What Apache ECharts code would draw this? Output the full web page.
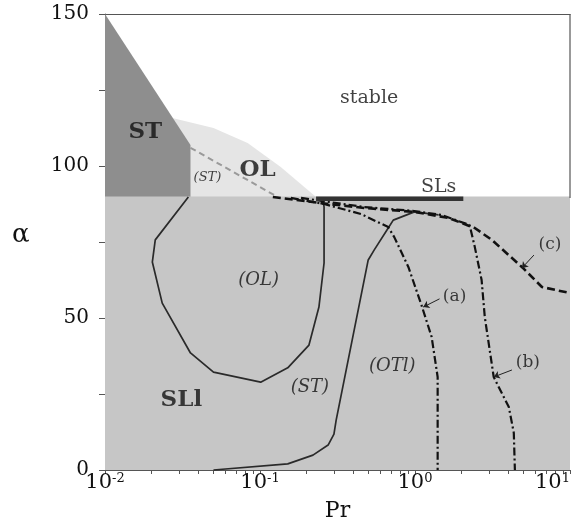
<!DOCTYPE html>
<html>
<head>
<meta charset="utf-8">
<script src="https://cdn.jsdelivr.net/npm/echarts@6/dist/echarts.min.js"></script>
<style>
html,body{margin:0;padding:0;background:#fff;}
#c{width:584px;height:529px;}
</style>
</head>
<body>
<div id="c"></div>
<script>
// ---- axis settings ----
const prMin = 0.01, prMax = 10;
const alphaMin = 0, alphaMax = 150;
const xMinorTicks = [0.01,0.02,0.03,0.04,0.05,0.06,0.07,0.08,0.09,0.1,0.2,0.3,0.4,0.5,0.6,0.7,0.8,0.9,1,2,3,4,5,6,7,8,9,10];

// ---- region boundaries ----
const stRegionPr    = [0.01, 0.0356, 0.0356];
const stRegionAlpha = [150, 106.9, 0];
const olRegionPr    = [0.01, 0.0272, 0.0501, 0.0832, 0.136, 0.230];
const olRegionAlpha = [116, 115.8, 112.5, 107.6, 99.7, 89.8];
const sllRegionPr    = [0.01, 10];
const sllRegionAlpha = [90, 90];
const slsBarPr    = [0.23, 2.05];
const slsBarAlpha = [89.2, 89.2];

// ---- curves ----
const stGrayPr    = [0.0356, 0.130];
const stGrayAlpha = [106.0, 89.8];
const olLoopPr    = [0.0345, 0.0211, 0.0202, 0.0234, 0.0356, 0.0501, 0.101, 0.151, 0.207, 0.240, 0.259, 0.259, 0.255];
const olLoopAlpha = [89.8, 75.7, 68.4, 54.9, 38.5, 32.2, 28.9, 33.6, 41.1, 53.6, 68.1, 86.5, 89.1];
const stSolidPr    = [0.0501, 0.151, 0.2196, 0.275, 0.300, 0.310, 0.499, 0.546, 0.672, 0.724, 0.991, 1.42];
const stSolidAlpha = [0, 2.0, 4.9, 8.2, 11.8, 16.4, 69.1, 72.4, 79.6, 82.2, 84.9, 83.9];
const curveAPr    = [0.158, 0.259, 0.449, 0.672, 0.735, 0.906, 1.10, 1.28, 1.40, 1.40];
const curveAAlpha = [89.5, 87.5, 84.2, 79.9, 76.6, 66.8, 54.3, 43.8, 30.6, 0];
const curveBPr    = [0.184, 0.470, 0.991, 1.48, 2.25, 2.43, 2.69, 2.82, 3.22, 4.03, 4.34, 4.41];
const curveBAlpha = [89.5, 86.5, 85.2, 83.9, 80.6, 73.4, 62.5, 50.3, 30.6, 20.7, 12.2, 0];
const curveCPr    = [0.121, 0.247, 0.470, 0.991, 1.65, 2.43, 3.13, 4.89, 6.59, 10];
const curveCAlpha = [89.8, 87.8, 86.2, 84.9, 82.9, 79.6, 75.7, 66.8, 60.2, 58.2];
const framePr    = [10, 10];
const frameAlpha = [89.5, 150];

// ---- text annotations ----
const boldNames = ['ST', 'OL', 'SLl'];
const boldPr    = [0.0182, 0.0966, 0.0311];
const boldAlpha = [111.2, 98.7, 23.0];
const plainNames = ['stable', 'SLs'];
const plainPr    = [0.506, 1.42];
const plainAlpha = [122.4, 93.1];
const italicNames = ['(OL)', '(ST)', '(OTl)'];
const italicPr    = [0.0981, 0.210, 0.714];
const italicAlpha = [62.5, 27.3, 34.2];
const smallItalicNames = ['(ST)'];
const smallItalicPr    = [0.0458];
const smallItalicAlpha = [96.1];
const tagNames = ['(a)', '(b)', '(c)'];
const tagPr    = [1.80, 5.35, 7.43];
const tagAlpha = [57.2, 35.2, 74.3];
const arrowFromPr    = [1.44, 4.22, 5.85];
const arrowFromAlpha = [56.3, 32.9, 70.7];
const arrowToPr      = [1.13, 3.22, 4.89];
const arrowToAlpha   = [53.6, 30.6, 66.4];

const xLabel = 'Pr';
const yLabel = 'α';

// ---- helpers ----
const zip = (xs, ys) => xs.map((x, i) => [x, ys[i]]);
const FONT = 'DejaVu Serif';

function areaSeries(xs, ys, color, z) {
  return { type: 'line', data: zip(xs, ys), showSymbol: false, symbol: 'none', z: z,
    lineStyle: { width: 0 }, areaStyle: { color: color, opacity: 1 }, silent: true, animation: false };
}
function curveSeries(xs, ys, style, z) {
  return { type: 'line', data: zip(xs, ys), showSymbol: false, symbol: 'none', z: z || 5,
    lineStyle: style, silent: true, animation: false, clip: false };
}
function textSeries(names, xs, ys, labelStyle) {
  return { type: 'scatter', symbolSize: 1, z: 10, silent: true, animation: false,
    itemStyle: { color: 'rgba(0,0,0,0)' },
    data: names.map((n, i) => ({ value: [xs[i], ys[i]], name: n })),
    label: Object.assign({ show: true, position: 'inside', formatter: p => p.name, color: '#111', fontFamily: FONT }, labelStyle) };
}

const chart = echarts.init(document.getElementById('c'), null, { renderer: 'canvas' });
chart.setOption({
  backgroundColor: '#fff',
  animation: false,
  grid: { left: 105, right: 14, top: 14, bottom: 59, containLabel: false, outerBoundsMode: 'none' },
  xAxis: [
    { type: 'log', logBase: 10, min: prMin, max: prMax, position: 'bottom',
      axisLine: { show: true, lineStyle: { color: '#555', width: 1 } },
      axisTick: { show: true, inside: false, length: 4, customValues: xMinorTicks, lineStyle: { color: '#555' } },
      splitLine: { show: false },
      axisLabel: { margin: 2, fontFamily: FONT, color: '#111', alignMaxLabel: 'right',
        formatter: v => '{b|10}{s|' + Math.round(Math.log10(v)) + '}',
        rich: { b: { fontSize: 21, fontFamily: FONT, color: '#111', lineHeight: 22 },
                s: { fontSize: 13, fontFamily: FONT, color: '#111', verticalAlign: 'top', lineHeight: 14, padding: [0, 0, 0, 0] } } },
      name: xLabel, nameLocation: 'middle', nameGap: 30,
      nameTextStyle: { fontFamily: FONT, fontSize: 22, color: '#111' } },
    { type: 'log', logBase: 10, min: prMin, max: prMax, position: 'top',
      axisLine: { show: true, lineStyle: { color: '#555', width: 1.2 } },
      axisTick: { show: false }, axisLabel: { show: false }, splitLine: { show: false } }
  ],
  yAxis: [
    { type: 'value', min: alphaMin, max: alphaMax, interval: 25, position: 'left',
      axisLine: { show: true, lineStyle: { color: '#777', width: 1 } },
      axisTick: { show: true, length: 6, lineStyle: { color: '#555' } },
      splitLine: { show: false },
      axisLabel: { margin: 16, fontFamily: FONT, fontSize: 20, color: '#111',
        formatter: v => (v % 50 === 0 ? String(v) : '') } }
  ],
  graphic: [
    { type: 'text', left: 12, top: 222, style: { text: yLabel, font: '26px "DejaVu Serif"', fill: '#111' } }
  ],
  series: [
    areaSeries(olRegionPr, olRegionAlpha, '#e5e5e5', 1),
    areaSeries(stRegionPr, stRegionAlpha, '#8e8e8e', 2),
    areaSeries(sllRegionPr, sllRegionAlpha, '#c6c6c6', 3),
    curveSeries(stGrayPr, stGrayAlpha, { color: '#9a9a9a', width: 2, type: [6, 4] }, 4),
    curveSeries(olLoopPr, olLoopAlpha, { color: '#2a2a2a', width: 1.7, type: 'solid' }),
    curveSeries(stSolidPr, stSolidAlpha, { color: '#2a2a2a', width: 1.7, type: 'solid' }),
    curveSeries(curveAPr, curveAAlpha, { color: '#111', width: 2.2, type: [8, 3, 2, 3] }),
    curveSeries(curveBPr, curveBAlpha, { color: '#111', width: 2.2, type: [8, 3, 2, 3] }),
    curveSeries(curveCPr, curveCAlpha, { color: '#111', width: 2.6, type: [8, 4] }),
    curveSeries(slsBarPr, slsBarAlpha, { color: '#333', width: 4.5, type: 'solid' }, 6),
    curveSeries(framePr, frameAlpha, { color: '#555', width: 1.2, type: 'solid' }, 6),
    { type: 'lines', coordinateSystem: 'cartesian2d', z: 9, silent: true, animation: false,
      symbol: ['none', 'arrow'], symbolSize: 6,
      lineStyle: { color: '#222', width: 1, opacity: 1 },
      data: arrowFromPr.map((x, i) => ({ coords: [[x, arrowFromAlpha[i]], [arrowToPr[i], arrowToAlpha[i]]] })) },
    textSeries(boldNames, boldPr, boldAlpha, { fontSize: 23, fontWeight: 'bold' }),
    textSeries(plainNames, plainPr, plainAlpha, { fontSize: 19 }),
    textSeries(italicNames, italicPr, italicAlpha, { fontSize: 18, fontStyle: 'italic' }),
    textSeries(smallItalicNames, smallItalicPr, smallItalicAlpha, { fontSize: 13, fontStyle: 'italic' }),
    textSeries(tagNames, tagPr, tagAlpha, { fontSize: 17 })
  ]
});
</script>
</body>
</html>
